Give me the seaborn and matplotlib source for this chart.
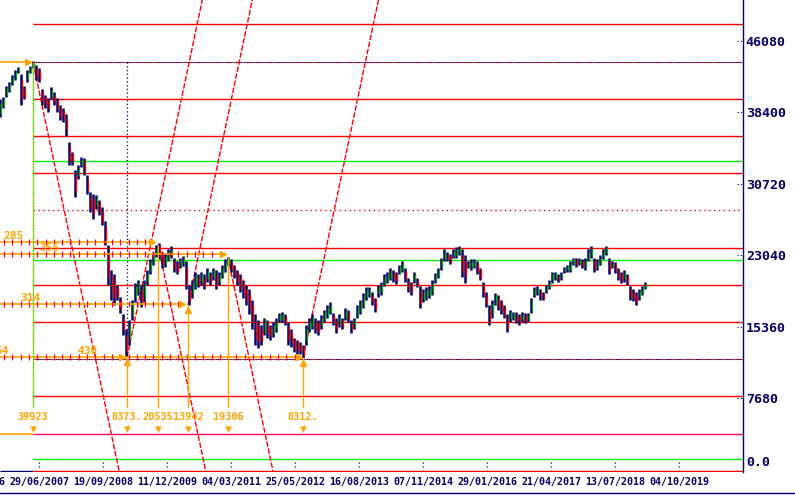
import numpy as np
import pandas as pd
import matplotlib
matplotlib.use("Agg")
import matplotlib.pyplot as plt
import matplotlib.transforms as mtransforms
from matplotlib.lines import Line2D
import seaborn as sns

# ---------------- data ----------------
# 3-weekly bar ranges (thousands)
bar_step_weeks = 3
bar_lo = [37.9, 38.9, 40.1, 40.6, 41.3, 41.9, 42.6, 39.2, 39.8, 41.7, 42.6, 43.2,
          41.9, 41.7, 39.2, 38.9, 38.5, 39.8, 39.2, 38.5, 37.6, 37.4, 35.9, 32.8,
          32.8, 29.3, 31.2, 32.5, 31.7, 29.6, 27.7, 26.9, 28.0, 27.4, 26.3, 24.2,
          19.9, 18.3, 17.7, 18.3, 16.9, 14.5, 12.1, 13.4, 16.1, 18.0, 18.8, 17.5,
          18.0, 19.9, 21.0, 22.0, 22.9, 22.6, 21.7, 21.8, 22.4, 22.8, 21.3, 21.0,
          21.7, 21.9, 19.4, 17.7, 18.5, 19.4, 19.6, 19.9, 19.4, 20.2, 19.9, 20.4,
          19.4, 19.9, 20.6, 21.3, 22.0, 21.3, 20.6, 19.9, 19.1, 18.5, 17.7, 16.7,
          15.1, 13.4, 13.1, 13.4, 14.5, 14.2, 14.0, 14.3, 14.8, 15.9, 15.9, 15.6,
          13.4, 13.2, 12.7, 12.4, 12.4, 12.0, 13.4, 14.8, 15.1, 14.7, 14.5, 15.1,
          15.9, 16.3, 16.7, 15.6, 14.7, 15.3, 15.1, 16.1, 15.9, 14.7, 15.1, 16.3,
          16.7, 17.4, 18.3, 18.6, 17.7, 17.0, 18.6, 18.8, 19.7, 20.1, 20.4, 20.2,
          20.0, 21.0, 21.3, 20.2, 19.1, 18.8, 20.1, 19.6, 17.4, 18.0, 18.3, 18.5,
          18.8, 20.1, 20.6, 21.5, 22.4, 22.4, 22.1, 22.8, 22.8, 23.1, 20.7, 20.1,
          21.7, 21.5, 21.7, 21.0, 20.4, 18.6, 17.5, 15.6, 16.3, 17.7, 17.2, 16.7,
          16.3, 14.8, 15.9, 16.1, 15.8, 15.6, 15.9, 15.8, 15.9, 16.9, 18.6, 18.8,
          18.3, 18.3, 19.0, 19.4, 20.1, 20.4, 20.2, 20.4, 21.2, 21.3, 21.3, 22.0,
          21.8, 22.0, 21.7, 21.5, 22.4, 22.8, 21.3, 21.5, 22.0, 22.6, 23.1, 21.0,
          21.7, 21.2, 20.4, 20.1, 20.2, 19.9, 18.3, 18.1, 17.7, 18.3, 18.8, 19.4]
bar_hi = [39.8, 40.1, 41.2, 41.7, 42.4, 43.0, 43.3, 42.5, 41.2, 43.0, 43.4, 43.9,
          43.5, 43.2, 40.9, 40.3, 40.0, 41.1, 40.6, 40.0, 39.2, 38.9, 38.2, 35.2,
          34.2, 32.2, 32.8, 33.6, 33.5, 31.7, 29.9, 29.6, 29.5, 29.0, 28.2, 26.7,
          24.2, 21.5, 21.0, 19.9, 18.6, 16.7, 15.1, 16.1, 18.3, 20.1, 20.4, 19.9,
          20.4, 21.5, 22.6, 23.4, 24.2, 24.4, 23.4, 23.3, 23.7, 24.0, 22.8, 22.4,
          22.8, 23.0, 22.4, 19.9, 20.4, 21.3, 21.0, 21.3, 21.0, 21.7, 21.3, 21.7,
          21.5, 21.3, 22.0, 22.6, 22.9, 22.6, 22.0, 21.5, 21.0, 20.4, 19.9, 19.4,
          18.3, 16.7, 16.1, 15.6, 16.3, 16.1, 15.6, 15.9, 16.3, 16.9, 17.0, 16.7,
          15.9, 15.1, 14.2, 14.0, 13.7, 13.4, 15.6, 16.3, 16.7, 16.3, 16.1, 16.6,
          17.2, 17.7, 18.0, 16.9, 16.3, 16.7, 16.3, 17.4, 17.2, 16.1, 16.3, 17.7,
          18.3, 19.0, 19.6, 19.6, 19.1, 18.5, 19.9, 20.2, 21.0, 21.3, 21.7, 21.5,
          21.3, 22.0, 22.4, 21.7, 20.6, 20.2, 21.3, 20.6, 19.7, 19.4, 19.6, 19.8,
          20.4, 21.2, 21.7, 22.8, 23.7, 23.4, 23.2, 23.7, 23.9, 24.0, 23.7, 23.1,
          22.4, 22.6, 22.6, 22.4, 21.7, 20.2, 19.1, 17.7, 18.3, 19.0, 18.8, 18.3,
          17.7, 16.7, 17.2, 17.0, 17.0, 16.7, 17.0, 16.8, 16.9, 18.5, 19.6, 19.7,
          19.4, 19.1, 19.9, 20.4, 21.3, 21.3, 21.0, 21.3, 21.8, 22.0, 22.4, 22.8,
          22.8, 22.8, 22.6, 22.8, 23.7, 24.0, 22.8, 22.6, 23.1, 23.7, 24.1, 22.8,
          22.4, 22.3, 21.7, 21.3, 21.5, 21.0, 19.7, 19.4, 19.1, 19.4, 19.8, 20.2]

# horizontal levels (thousands) starting at the 2007 top
gann_levels = [47.88, 43.79, 39.82, 35.84, 33.15, 31.87, 27.89, 23.81,
               22.52, 19.83, 15.85, 11.88, 7.90, 3.82, 1.13, -0.13]
gann_kind = ["red", "navydot", "red", "red", "green", "red", "reddot", "red",
             "green", "red", "red", "navydot", "red", "crimson", "green", "red"]

# pivots (week index, thousands), labels and fan direction
pivot_weeks = [33, 127, 158, 188, 228, 303]
pivot_price = [43.8, 12.1, 24.2, 17.7, 22.8, 12.0]
pivot_labels = ["39923", "8373.", "20535", "13942", "19306", "8312."]
fan_direction = [-1, 1, -1, 1, -1, 1]
fan_slope = 0.51  # thousands per week

# orange guide lines (thousands), their right end (weeks) and labels
guide_levels = [43.79, 24.48, 23.19, 17.82, 12.12, 3.82]
guide_ends = [31, 155, 226, 185, 302, 33]
guide_labels = ["", "285", "355", "314", "430", ""]
guide_label_x = [0, 14, 49, 30, 88, 0]

# axis ticks
y_ticks = [0, 7680, 15360, 23040, 30720, 38400, 46080]
y_tick_labels = ["0.0", "7680", "15360", "23040", "30720", "38400", "46080"]
date_labels = ["07/04/2006", "29/06/2007", "19/09/2008", "11/12/2009", "04/03/2011",
               "25/05/2012", "16/08/2013", "07/11/2014", "29/01/2016",
               "21/04/2017", "13/07/2018", "04/10/2019"]
origin = pd.Timestamp("2006-09-29")

# ---------------- style ----------------
sns.set_theme(style="white")
plt.rcParams["font.family"] = ["DejaVu Sans Mono", "DejaVu Sans"]

NAVY = "#000066"
RED = "#ff0000"
GREEN = "#00ee00"
BARGREEN = "#00b400"
ORANGE = "#ffa500"
CRIMSON = "#ff0066"

K = 1000.0
fig = plt.figure(figsize=(7.95, 4.97), dpi=100)
fig.patch.set_facecolor("white")
ax_h = 472.1
ax = fig.add_axes([0, (497 - ax_h) / 497, 743 / 795, ax_h / 497])
ax.set_facecolor("white")
ax.set_xlim(0, 743)
ax.set_ylim(-250, 50489)
for s in ["top", "left", "bottom"]:
    ax.spines[s].set_visible(False)
ax.spines["right"].set_color(NAVY)
ax.spines["right"].set_linewidth(1.0)

# ---------------- gann levels ----------------
x0, x1 = 33, 743
for lvl, kind in zip(gann_levels, gann_kind):
    v = lvl * K
    if kind == "red":
        ax.hlines(v, x0, x1, color=RED, lw=1.0, zorder=2)
    elif kind == "green":
        ax.hlines(v, x0, x1, color=GREEN, lw=1.0, zorder=2)
    elif kind == "crimson":
        ax.hlines(v, x0, x1, color=CRIMSON, lw=1.0, zorder=2)
    elif kind == "reddot":
        ax.hlines(v, x0, x1, color=RED, lw=1.0, linestyles=(0, (1, 2.5)), zorder=2)
    elif kind == "navydot":
        ax.hlines(v, x0, x1, color=RED, lw=0.8, linestyles=(1, (1, 1)), zorder=2)
        ax.hlines(v, x0, x1, color=NAVY, lw=0.8, linestyles=(0, (1, 1)), zorder=2)
# axis base line left of the top
ax.hlines(gann_levels[-1] * K, 0, x0, color=NAVY, lw=1.0, zorder=2)

# ---------------- fan lines ----------------
for px, pp, d in zip(pivot_weeks, pivot_price, fan_direction):
    L = 120
    ax.plot([px, px + L], [pp * K, (pp + d * fan_slope * L) * K], color=RED,
            lw=1.0, ls=(0, (4, 1.2)), zorder=3)

# ---------------- price bars ----------------
lo = np.array(bar_lo) * K
hi = np.array(bar_hi) * K
xs = np.arange(len(lo)) * bar_step_weeks
mid = (lo + hi) / 2
prev = np.r_[mid[0], mid[:-1]]
up = mid >= prev
rng = hi - lo
b_lo = lo + 0.2 * rng
b_hi = hi - 0.2 * rng
ax.vlines(xs, lo, hi, color=NAVY, lw=1.8, zorder=4)
ax.vlines(xs[up] + 1.4, b_lo[up], b_hi[up], color=BARGREEN, lw=1.0, zorder=5)
ax.vlines(xs[~up] + 1.4, b_lo[~up], b_hi[~up], color=RED, lw=1.0, zorder=5)

# ---------------- orange guides ----------------
txt_kw = dict(color=ORANGE, fontsize=8.0, fontweight="bold",
              family=["DejaVu Sans Mono", "DejaVu Sans"], zorder=7)
for lvl, xe, lab, lx in zip(guide_levels, guide_ends, guide_labels, guide_label_x):
    v = lvl * K
    ax.plot([0, xe], [v, v], color=ORANGE, lw=1.2, zorder=6, solid_capstyle="butt")
    if xe > 40:
        tx = np.arange(4, xe - 6, 8.3)
        ax.plot(tx, np.full(len(tx), v), ls="none", marker="|", ms=4, mew=0.9,
                color=RED, zorder=6)
        ax.plot([xe - 3], [v], marker=">", ms=4.2, color=ORANGE, zorder=7)
    elif lvl > 40:
        ax.plot([xe - 3], [v], marker=">", ms=4.2, color=ORANGE, zorder=7)
    if lab:
        ax.text(lx, v + 150, lab, ha="center", va="bottom", **txt_kw)
# extra arrow and cut label on the lowest guide
ax.plot([122], [guide_levels[4] * K], marker=">", ms=4.2, color=ORANGE, zorder=7)
ax.text(9, guide_levels[4] * K + 150, "54", ha="right", va="bottom", **txt_kw)

# ---------------- pivot verticals and labels ----------------
base = 6750
lab_y = 5620
mark_y = 4385
piv_kw = dict(txt_kw)
piv_kw["fontsize"] = 7.4
ax.plot([33, 33], [guide_levels[0] * K, base], color=ORANGE, lw=1.0,
        ls=(0, (1, 1)), zorder=6)
ax.plot([33, 33], [guide_levels[0] * K, base], color=GREEN, lw=1.0,
        ls=(1, (1, 1)), zorder=6)
ax.plot([127, 127], [guide_levels[0] * K, pivot_price[1] * K], color=NAVY,
        lw=0.9, ls=(0, (1, 2)), zorder=3)
for px, pp, lab, d in zip(pivot_weeks, pivot_price, pivot_labels, fan_direction):
    if px != pivot_weeks[0]:
        ax.plot([px, px], [pp * K, base], color=ORANGE, lw=1.0, zorder=6)
    if d > 0:
        ax.plot([px], [pp * K - 500], marker="^", ms=3.8, color=ORANGE, zorder=7)
    ax.text(px, lab_y, lab, ha="center", va="center", **piv_kw)
sns.scatterplot(x=pivot_weeks, y=[mark_y] * len(pivot_weeks), marker="v", s=18,
                color=ORANGE, edgecolor=ORANGE, ax=ax, zorder=7, legend=False)

# ---------------- axes ticks ----------------
ax.yaxis.tick_right()
ax.set_yticks(y_ticks)
ax.set_yticklabels(y_tick_labels)
ax.tick_params(axis="y", length=0, pad=2, labelsize=9.6, labelcolor=NAVY)
for t in ax.get_yticklabels():
    t.set_fontweight("bold")
ylabs = ax.get_yticklabels()
ylabs[0].set_transform(ylabs[0].get_transform() +
                       mtransforms.ScaledTranslation(0, 6 / 72, fig.dpi_scale_trans))
ax.hlines(y_ticks[1:], 736.5, 742, color=NAVY, lw=0.8, linestyles=(0, (1, 2)), zorder=8)

date_x = [(pd.Timestamp(d[6:] + "-" + d[3:5] + "-" + d[:2]) - origin).days / 7.0
          for d in date_labels]
vis = [(x, l) for x, l in zip(date_x, date_labels) if 0 <= x <= 743]
ax.set_xticks([v[0] for v in vis])
ax.set_xticklabels([v[1] for v in vis])
ax.tick_params(axis="x", length=0, pad=3.2, labelsize=7.2, labelcolor=NAVY)
for t in ax.get_xticklabels():
    t.set_fontweight("bold")
blend = mtransforms.blended_transform_factory(ax.transData, ax.transAxes)
for x, l in zip(date_x, date_labels):
    if x < 0:
        ax.text(x, 0, l, transform=mtransforms.offset_copy(blend, fig=fig, y=-3.2, units="points"),
                ha="center", va="top", fontsize=7.2, fontweight="bold", color=NAVY,
                clip_on=False)
ax.vlines([v[0] for v in vis], 300, 860, color=NAVY, lw=0.9,
          linestyles=(0, (1, 2)), zorder=8)

fig.add_artist(Line2D([0, 1], [3.6 / 497, 3.6 / 497], color=NAVY, lw=1.0))

fig.savefig("out.png", dpi=100, facecolor="white")
